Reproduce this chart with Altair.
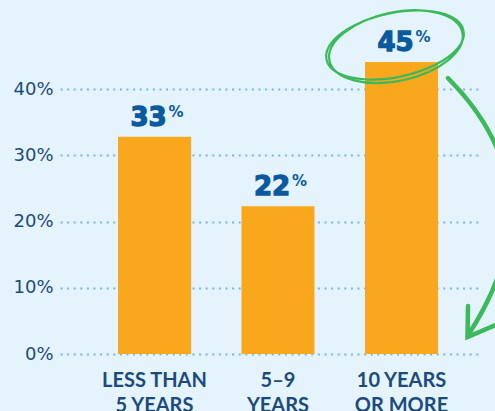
import altair as alt
import pandas as pd

categories = ["LESS THAN|5 YEARS", "5–9|YEARS", "10 YEARS|OR MORE"]
bar_values = [32.8, 22.3, 44.1]
label_values = ["33", "22", "45"]
y_ticks = [0, 10, 20, 30, 40]
highlight = [False, False, True]

df = pd.DataFrame(
    {"cat": categories, "value": bar_values, "label": label_values, "hl": highlight}
)

x = alt.X(
    "cat:N",
    sort=categories,
    scale=alt.Scale(paddingInner=0.409, paddingOuter=0.405, align=0.58),
    axis=alt.Axis(
        title=None,
        labelAngle=0,
        labelExpr="split(datum.value, '|')",
        labelFont="Lato",
        labelFontWeight="bold",
        labelFontSize=20,
        labelLineHeight=25,
        labelColor="#1c4a7c",
        labelPadding=16,
        ticks=False,
        domain=False,
        labelBaseline="top",
    ),
)
y = alt.Y(
    "value:Q",
    scale=alt.Scale(domain=[0, 50], nice=False),
    axis=alt.Axis(
        title=None,
        values=y_ticks,
        labelExpr="datum.value + '%'",
        labelFont="DejaVu Sans",
        labelFontSize=18,
        labelColor="#1c4a7c",
        labelPadding=7,
        ticks=False,
        domain=False,
        grid=True,
        gridColor="#7ab6e0",
        gridDash=[2, 4.6],
        gridWidth=2,
    ),
)

base = alt.Chart(df).encode(x=x, y=y)

bars = base.mark_bar(color="#f9a81d")

nums = base.mark_text(
    font="DejaVu Sans",
    fontWeight="bold",
    fontSize=26,
    color="#0b5a9e",
    stroke="#0b5a9e",
    strokeWidth=1.3,
    align="center",
    baseline="alphabetic",
    dx=-6,
    dy=-11,
).encode(text="label:N")

pct = base.mark_text(
    font="DejaVu Sans",
    fontWeight="bold",
    fontSize=15,
    color="#0b5a9e",
    align="left",
    baseline="top",
    dx=14,
    dy=-32,
).encode(text=alt.value("%"))

# hand-drawn double ellipse around the highlighted label (shape style only)
ellipse_path = (
    "M -1.071 -0.035 A 1 0.45 -12 1 0 0.885 -0.451 A 1 0.45 -12 1 0 -1.071 -0.035 "
    "M -1.029 -0.018 A 0.97 0.49 -12 1 0 0.869 -0.422 A 0.97 0.49 -12 1 0 -1.029 -0.018"
)
ring = (
    base.transform_filter("datum.hl")
    .mark_point(
        shape=ellipse_path,
        size=19600,
        filled=False,
        stroke="#3cb95a",
        strokeWidth=2.2,
        opacity=1,
    )
)

arrow_path = (
    "M 0.465 0.16 Q 1.6 1.3 0.66 2.74 "
    "M 0.665 2.44 L 0.66 2.75 L 0.94 2.63"
)
arrow = (
    base.transform_filter("datum.hl")
    .mark_point(
        shape=arrow_path,
        size=40000,
        filled=False,
        stroke="#3cb95a",
        strokeWidth=4.5,
        strokeCap="round",
        strokeJoin="miter",
        opacity=1,
    )
)

chart = (
    alt.layer(bars, nums, pct, ring, arrow)
    .properties(
        width=420,
        height=331,
        autosize=alt.AutoSizeParams(type="none"),
        padding={"left": 60, "top": 23, "right": 15, "bottom": 57},
        background="#e5f4fc",
    )
    .configure_view(stroke=None)
)

chart.save("out.html", embed_options={"renderer": "svg", "actions": False})
